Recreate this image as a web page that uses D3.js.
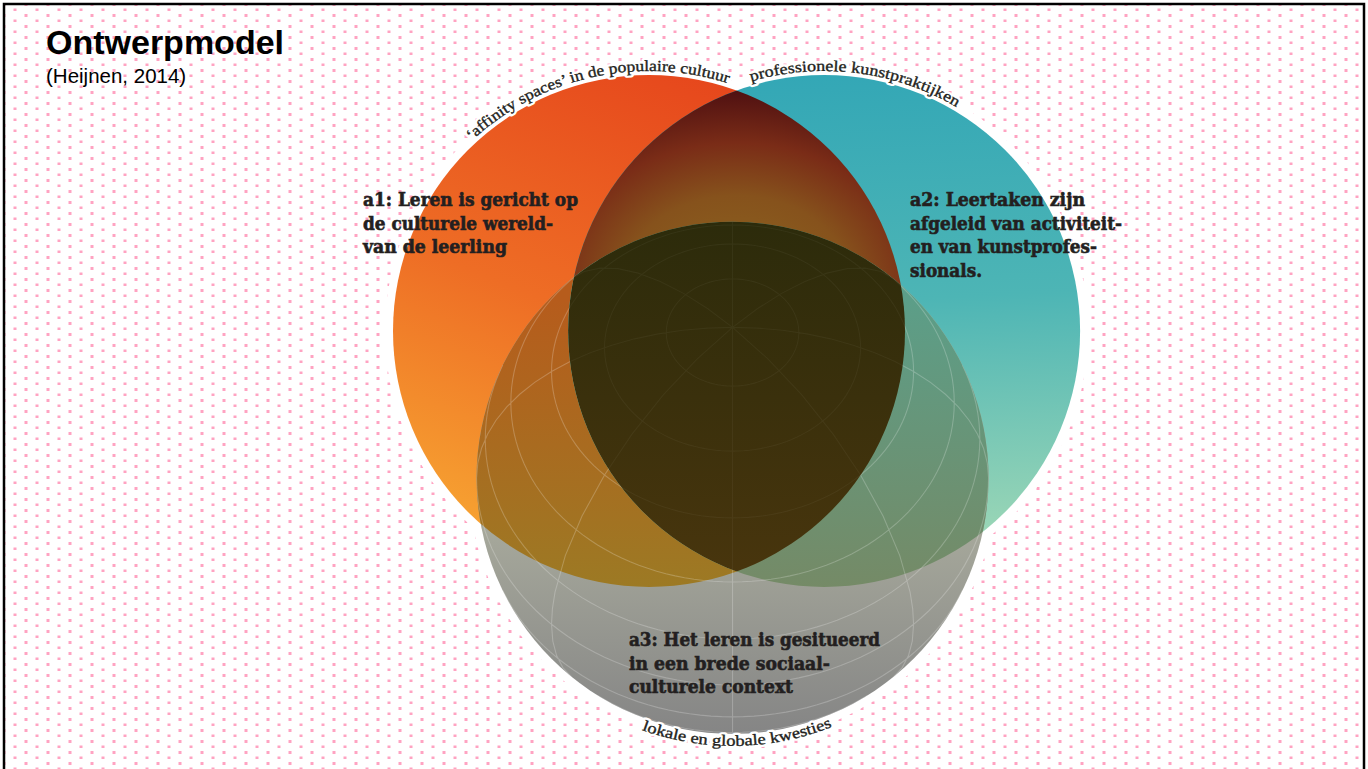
<!DOCTYPE html>
<html>
<head>
<meta charset="utf-8">
<script src="https://cdn.jsdelivr.net/npm/d3@7"></script>
<style>
html, body { margin: 0; padding: 0; background: #fff; }
svg { display: block; }
</style>
</head>
<body>
<div id="chart"></div>
<script>
// ---- data ----
const titleText = "Ontwerpmodel";
const subtitleText = "(Heijnen, 2014)";

// three sets of equal size, with the distance between each pair of centres (in radii)
const setKeys = ["a1", "a2", "a3"];
const setSizes = [1, 1, 1];
const pairKeys = [["a1", "a2"], ["a1", "a3"], ["a2", "a3"]];
const pairDistances = [0.684, 0.66, 0.676];

const setLabels = [
  ["a1: Leren is gericht op", "de culturele wereld-", "van de leerling"],
  ["a2: Leertaken zijn", "afgeleid van activiteit-", "en van kunstprofes-", "sionals."],
  ["a3: Het leren is gesitueerd", "in een brede sociaal-", "culturele context"]
];
const arcLabels = [
  "\u2018affinity spaces\u2019 in de populaire cultuur",
  "professionele kunstpraktijken",
  "lokale en globale kwesties"
];

// ---- layout / style ----
const W = 1368, H = 769;
const origin = { x: 649, y: 331 };   // centre of set a1
const unitPx = 256;                   // one radius in pixels
const labelPos = [
  { x: 363, y: 206, widths: [215, 190, 144] },
  { x: 910, y: 206, widths: [175, 212, 187, 72] },
  { x: 629, y: 646, widths: [251, 201, 164] }
];
const lineHeight = 23.5;
// arc labels: degrees clockwise from top (or from bottom for the lower one), offset from rim
const arcPos = [
  { from: -43, to: 17.7, off: 4, bottom: false },
  { from: -16.3, to: 30.6, off: 4, bottom: false },
  { from: -19.8, to: 21.8, off: 12, bottom: true }
];

// ---- compute venn positions from pair distances ----
function dist(a, b) {
  const i = pairKeys.findIndex(p => (p[0] === a && p[1] === b) || (p[0] === b && p[1] === a));
  return pairDistances[i];
}
const dAB = dist("a1", "a2"), dAC = dist("a1", "a3"), dBC = dist("a2", "a3");
const cx3 = (dAC * dAC - dBC * dBC + dAB * dAB) / (2 * dAB);
const cy3 = Math.sqrt(dAC * dAC - cx3 * cx3);
const unitCentres = [[0, 0], [dAB, 0], [cx3, cy3]];

const x = d3.scaleLinear().domain([0, 1]).range([origin.x, origin.x + unitPx]);
const y = d3.scaleLinear().domain([0, 1]).range([origin.y, origin.y + unitPx]);
const rScale = d3.scaleLinear().domain([0, 1]).range([0, unitPx]);

const sets = setKeys.map((k, i) => ({
  key: k,
  cx: x(unitCentres[i][0]),
  cy: y(unitCentres[i][1]),
  r: rScale(setSizes[i])
}));
const [A, B, C] = sets;

// ---- svg ----
const svg = d3.select("#chart").append("svg")
  .attr("width", W).attr("height", H);
const defs = svg.append("defs");

// dotted background pattern
const pat = defs.append("pattern").attr("id", "dots")
  .attr("patternUnits", "userSpaceOnUse").attr("width", 22).attr("height", 11);
pat.append("rect").attr("x", 13.5).attr("y", 8.5).attr("width", 3).attr("height", 3).attr("fill", "#ffa3c2");
pat.append("rect").attr("x", 2.5).attr("y", 3).attr("width", 3).attr("height", 3).attr("fill", "#ffa3c2");

function linGrad(id, x1, y1, x2, y2, stops, user) {
  const g = defs.append("linearGradient").attr("id", id)
    .attr("x1", x1).attr("y1", y1).attr("x2", x2).attr("y2", y2);
  if (user) g.attr("gradientUnits", "userSpaceOnUse");
  stops.forEach(s => g.append("stop").attr("offset", s[0]).attr("stop-color", s[1]));
}
linGrad("gOrange", 0.65, 0, 0.25, 1, [[0, "#e6461c"], [0.5, "#ee6d25"], [1, "#f8aa33"]]);
linGrad("gTeal", 0.4, 0, 0.45, 1, [[0, "#33a7b6"], [0.45, "#4db5b5"], [1, "#a8dcb6"]]);
linGrad("gGray", 0, 0, 0, 1, [[0, "#babdaf"], [0.6, "#a6a89b"], [1, "#858585"]]);
linGrad("gOG", 0, 300, 0, 590, [[0, "#b65c1c"], [1, "#9c7a24"]], true);
linGrad("gTG", 0, 300, 0, 590, [[0, "#5c9e88"], [1, "#758a66"]], true);
linGrad("gTriple", 0, 220, 0, 575, [[0, "#2c2b0b"], [1, "#48350d"]], true);
const lens = defs.append("radialGradient").attr("id", "gLens")
  .attr("gradientUnits", "userSpaceOnUse")
  .attr("cx", 0).attr("cy", 0).attr("r", 1)
  .attr("gradientTransform", `translate(${(A.cx + B.cx) / 2},290) scale(260,210)`);
[[0, "#8e6820"], [0.45, "#86521c"], [0.7, "#7a2c17"], [1, "#470b10"]]
  .forEach(s => lens.append("stop").attr("offset", s[0]).attr("stop-color", s[1]));

sets.forEach(s => {
  defs.append("clipPath").attr("id", "clip-" + s.key)
    .append("circle").attr("cx", s.cx).attr("cy", s.cy).attr("r", s.r);
});

// background
svg.append("rect").attr("width", W).attr("height", H).attr("fill", "#fff");
svg.append("rect").attr("x", 4).attr("y", 4).attr("width", 1360).attr("height", 800)
  .attr("fill", "url(#dots)");

// white halos round the circles
svg.append("g").selectAll("circle").data(sets).join("circle")
  .attr("cx", d => d.cx).attr("cy", d => d.cy).attr("r", d => d.r + 8)
  .attr("fill", "#fff");

// full circles
const fills = { a1: "url(#gOrange)", a2: "url(#gTeal)", a3: "url(#gGray)" };
svg.append("g").selectAll("circle").data(sets).join("circle")
  .attr("cx", d => d.cx).attr("cy", d => d.cy).attr("r", d => d.r)
  .attr("fill", d => fills[d.key]);

function circ(g, s, fill) {
  g.append("circle").attr("cx", s.cx).attr("cy", s.cy).attr("r", s.r).attr("fill", fill);
}
// a1 ∩ a2
circ(svg.append("g").attr("clip-path", "url(#clip-a1)"), B, "url(#gLens)");
// a1 ∩ a3
circ(svg.append("g").attr("clip-path", "url(#clip-a3)"), A, "url(#gOG)");
// a2 ∩ a3
circ(svg.append("g").attr("clip-path", "url(#clip-a3)"), B, "url(#gTG)");

// globe lines on a3
const projection = d3.geoOrthographic()
  .rotate([0, -54])
  .translate([C.cx, C.cy])
  .scale(C.r)
  .clipAngle(90);
const geoPath = d3.geoPath(projection);
const graticule = d3.geoGraticule().step([45, 15])();
function drawGlobe(parent, opacity) {
  parent.append("path")
    .datum(graticule)
    .attr("d", geoPath)
    .attr("fill", "none")
    .attr("stroke", "#fff")
    .attr("stroke-opacity", opacity)
    .attr("stroke-width", 1.1);
}
drawGlobe(svg.append("g").attr("clip-path", "url(#clip-a3)"), 0.22);

// a1 ∩ a2 ∩ a3, with only faint globe lines inside
const triple = svg.append("g").attr("clip-path", "url(#clip-a3)")
  .append("g").attr("clip-path", "url(#clip-a1)")
  .append("g").attr("clip-path", "url(#clip-a2)");
circ(triple, B, "url(#gTriple)");
drawGlobe(triple, 0.045);

// arc labels
const textColor = "#231f20";
arcLabels.forEach((txt, i) => {
  const s = sets[i], a = arcPos[i];
  const rr = s.r + a.off;
  const p = d3.path();
  const rad = Math.PI / 180;
  if (!a.bottom) {
    p.arc(s.cx, s.cy, rr, a.from * rad - Math.PI / 2, a.to * rad - Math.PI / 2, false);
  } else {
    p.arc(s.cx, s.cy, rr, Math.PI / 2 - a.from * rad, Math.PI / 2 - a.to * rad, true);
  }
  const len = Math.abs(a.to - a.from) * rad * rr;
  defs.append("path").attr("id", "arc" + i).attr("d", p.toString());
  // white halo first, then the dark text on top
  [["#fff", 5], [textColor, 0.35]].forEach(([stroke, sw]) => {
    svg.append("text")
      .attr("font-family", "'Liberation Serif', serif")
      .attr("font-size", 15.5)
      .attr("fill", textColor)
      .attr("stroke", stroke).attr("stroke-width", sw).attr("stroke-linejoin", "round")
      .append("textPath")
      .attr("href", "#arc" + i)
      .attr("textLength", len)
      .attr("lengthAdjust", "spacingAndGlyphs")
      .text(txt);
  });
});

// set labels
setLabels.forEach((lines, i) => {
  const lp = labelPos[i];
  const t = svg.append("text")
    .attr("font-family", "'DejaVu Serif', serif")
    .attr("font-weight", "bold")
    .attr("font-size", 18)
    .attr("fill", textColor)
    .attr("stroke", textColor)
    .attr("stroke-width", 0.6);
  lines.forEach((ln, j) => {
    t.append("tspan")
      .attr("x", lp.x)
      .attr("y", lp.y + j * lineHeight)
      .attr("textLength", lp.widths[j])
      .attr("lengthAdjust", "spacingAndGlyphs")
      .text(ln);
  });
});

// title
svg.append("text").attr("x", 46).attr("y", 54)
  .attr("font-family", "'Liberation Sans', Arial, sans-serif")
  .attr("font-weight", "bold").attr("font-size", 34).attr("fill", "#000")
  .text(titleText);
svg.append("text").attr("x", 46).attr("y", 83)
  .attr("font-family", "'Liberation Sans', Arial, sans-serif")
  .attr("font-size", 20.5).attr("fill", "#000")
  .text(subtitleText);

// frame
svg.append("rect").attr("x", 4).attr("y", 4).attr("width", 1360).attr("height", 800)
  .attr("fill", "none").attr("stroke", "#000").attr("stroke-width", 2.5);
</script>
</body>
</html>
